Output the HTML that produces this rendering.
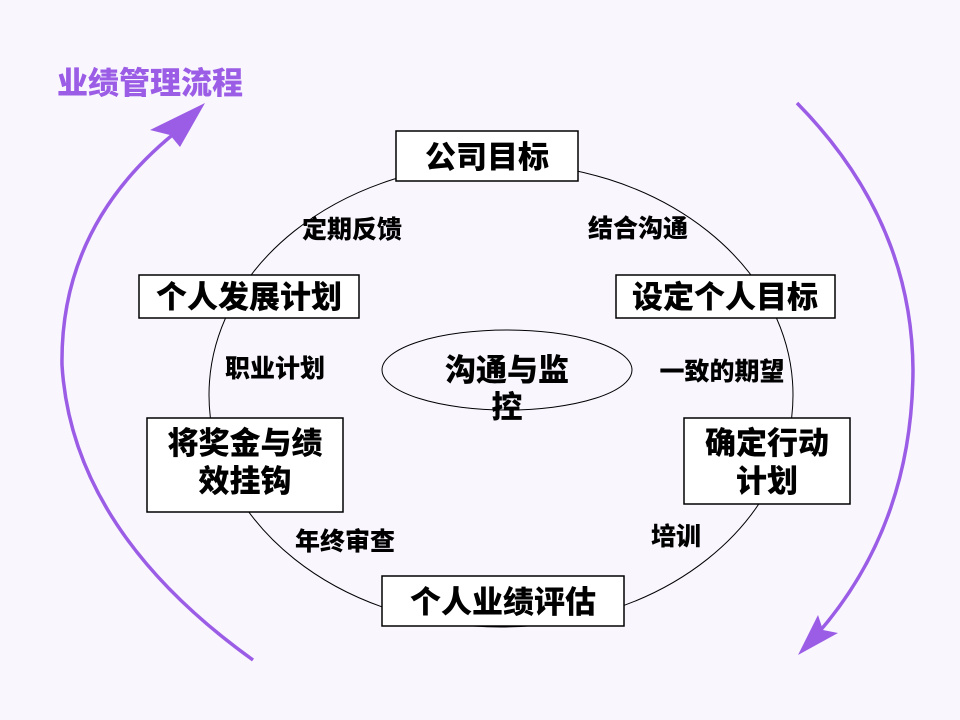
<!DOCTYPE html>
<html><head><meta charset="utf-8"><style>
html,body{margin:0;padding:0;background:#f9f6fe;}
svg{display:block}
text{font-family:"Noto Sans CJK SC","Liberation Sans",sans-serif;font-weight:900;}
</style></head><body>
<svg width="960" height="720" viewBox="0 0 960 720">
<rect width="960" height="720" fill="#f9f6fe"/>
<ellipse cx="501" cy="395" rx="292" ry="232" fill="none" stroke="#000" stroke-width="1"/>
<ellipse cx="507" cy="370" rx="125" ry="40" fill="none" stroke="#000" stroke-width="1"/>
<path d="M253,660 Q72,530 62,365 Q60,220 185,125" fill="none" stroke="#9b5de5" stroke-width="3.5"/>
<polygon points="205,103 150,130 170,135 180,147" fill="#9b5de5"/>
<path d="M797,103 Q912,220 913,370 Q912,530 812,640" fill="none" stroke="#9b5de5" stroke-width="3.5"/>
<polygon points="798,655 818,615 823,630 838,633" fill="#9b5de5"/>
<text x="150" y="94" font-size="31" fill="#9b5de5" text-anchor="middle">业绩管理流程</text>
<g fill="#fff" stroke="#000" stroke-width="1.5">
<rect x="396" y="131" width="182" height="50"/>
<rect x="616" y="275" width="219" height="43"/>
<rect x="139" y="275" width="220" height="43"/>
<rect x="684" y="418" width="166" height="86"/>
<rect x="147" y="418" width="196" height="94"/>
<rect x="382" y="576" width="242" height="50"/>
</g>
<g font-size="31" fill="#000" text-anchor="middle">
<text x="487" y="168">公司目标</text>
<text x="725" y="308">设定个人目标</text>
<text x="249" y="308">个人发展计划</text>
<text x="767" y="454">确定行动</text>
<text x="767" y="492">计划</text>
<text x="245" y="454">将奖金与绩</text>
<text x="245" y="492">效挂钩</text>
<text x="503" y="613">个人业绩评估</text>
<text x="507" y="381">沟通与监</text>
<text x="507" y="418">控</text>
</g>
<g font-size="25" fill="#000" text-anchor="middle">
<text x="352" y="238">定期反馈</text>
<text x="638" y="237">结合沟通</text>
<text x="275" y="377">职业计划</text>
<text x="722" y="380">一致的期望</text>
<text x="345" y="550">年终审查</text>
<text x="676" y="545">培训</text>
</g>
</svg>
</body></html>
